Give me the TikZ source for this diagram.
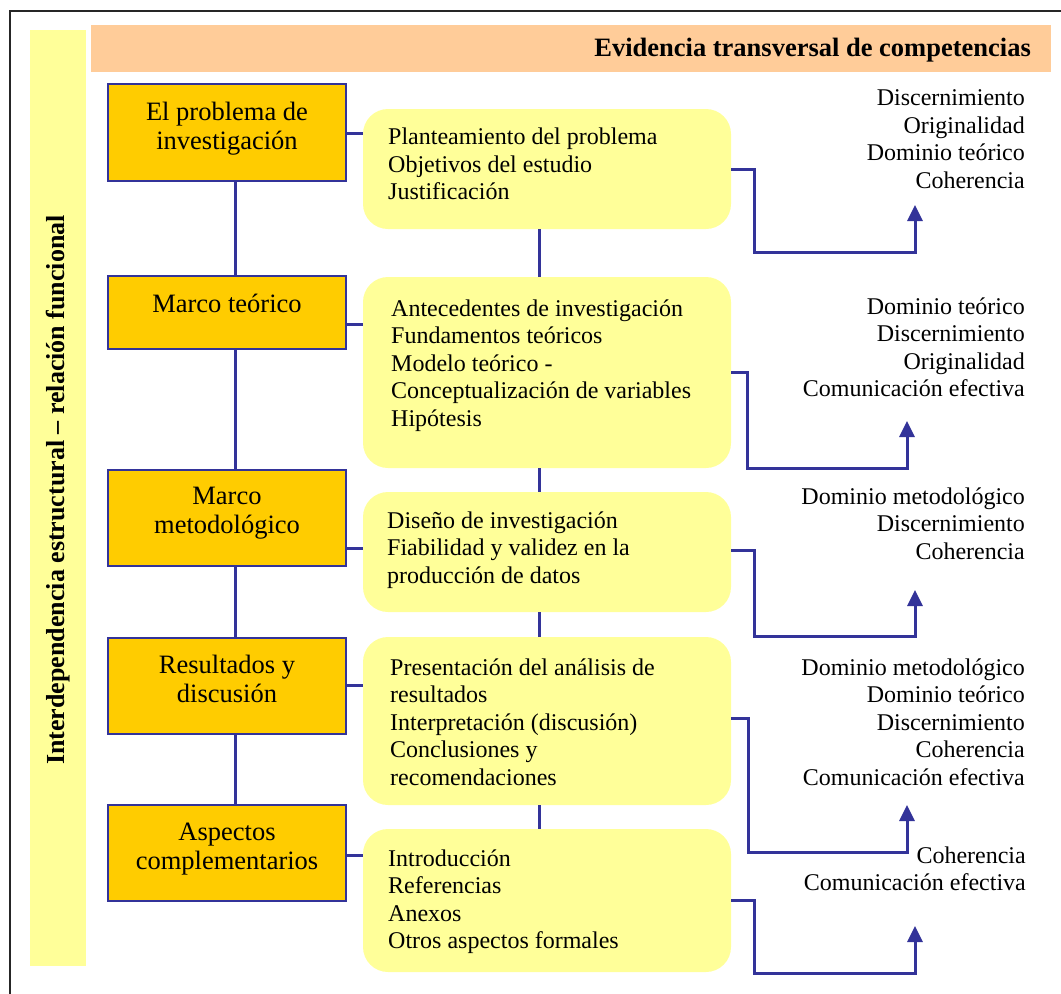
\documentclass[tikz,border=0pt]{standalone}
\usepackage{fontspec}
\setmainfont{Liberation Serif}
\usetikzlibrary{arrows.meta}
\definecolor{navy}{HTML}{333399}
\definecolor{gold}{HTML}{FFCC00}
\definecolor{paleyellow}{HTML}{FFFF99}
\definecolor{peach}{HTML}{FFCC99}
\begin{document}
% multi-line texts are placed by the baseline of their last line
\begin{tikzpicture}[x=1pt,y=-1pt,
  goldbox/.style={draw=navy, line width=2.5pt, fill=gold, minimum width=238pt, inner sep=0pt},
  softbox/.style={fill=paleyellow, rounded corners=25pt, minimum width=368pt, inner sep=0pt},
  link/.style={draw=navy, line width=3pt},
  goal/.style={link, -{Triangle[width=15pt,length=16pt]}},
  boxtext/.style={font=\fontsize{26.5}{29.5}\selectfont, align=center, anchor=base, inner sep=0pt},
  itemtext/.style={font=\fontsize{24}{27.5}\selectfont, align=left, anchor=base west, inner sep=0pt},
  skilltext/.style={font=\fontsize{24}{27.5}\selectfont, align=right, anchor=base east, inner sep=0pt}]
\useasboundingbox (0,0) rectangle (1061,994);

% frame and header bands
\draw[line width=2pt, black!85] (9.5,994) -- (9.5,11) -- (1061,11);
\fill[peach] (91,25) rectangle (1051,72);
\fill[paleyellow] (30,30) rectangle (86,966);
\node[anchor=base east, inner sep=0pt, font=\fontsize{26.5}{29.5}\selectfont\bfseries] (title) at (1031,56)
  {Evidencia transversal de competencias};
\node[rotate=90, inner sep=0pt, font=\fontsize{26}{29}\selectfont\bfseries] (axis) at (58,490)
  {Interdependencia estructural – relación funcional};

% stages of the thesis
\node[goldbox, minimum height=97pt] (b1) at (227,132.5) {};
\node[goldbox, minimum height=73pt] (b2) at (227,312.5) {};
\node[goldbox, minimum height=96pt] (b3) at (227,518) {};
\node[goldbox, minimum height=96pt] (b4) at (227,686) {};
\node[goldbox, minimum height=96pt] (b5) at (227,853) {};
\node[boxtext] (b1t) at (227,149.5) {El problema de\\investigación};
\node[boxtext] (b2t) at (227,312) {Marco teórico};
\node[boxtext] (b3t) at (227,533.5) {Marco\\metodológico};
\node[boxtext] (b4t) at (227,702.5) {Resultados y\\discusión};
\node[boxtext] (b5t) at (227,869.5) {Aspectos\\complementarios};

% contents of each stage
\node[softbox, minimum height=120pt] (p1) at (547,169) {};
\node[softbox, minimum height=191pt] (p2) at (547,372.5) {};
\node[softbox, minimum height=120pt] (p3) at (547,552) {};
\node[softbox, minimum height=168pt] (p4) at (547,721) {};
\node[softbox, minimum height=143pt] (p5) at (547,900.5) {};
\node[itemtext] (p1t) at (388,199.5) {Planteamiento del problema\\Objetivos del estudio\\Justificación};
\node[itemtext] (p2t) at (391,426) {Antecedentes de investigación\\Fundamentos teóricos\\Modelo teórico -\\Conceptualización de variables\\Hipótesis};
\node[itemtext] (p3t) at (387,583) {Diseño de investigación\\Fiabilidad y validez en la\\producción de datos};
\node[itemtext] (p4t) at (390,785) {Presentación del análisis de\\resultados\\Interpretación (discusión)\\Conclusiones y\\recomendaciones};
\node[itemtext] (p5t) at (388,948.5) {Introducción\\Referencias\\Anexos\\Otros aspectos formales};

% competences shown by each stage
\node[skilltext] (s1) at (1025,188) {Discernimiento\\Originalidad\\Dominio teórico\\Coherencia};
\node[skilltext] (s2) at (1025,396.5) {Dominio teórico\\Discernimiento\\Originalidad\\Comunicación efectiva};
\node[skilltext] (s3) at (1025,559) {Dominio metodológico\\Discernimiento\\Coherencia};
\node[skilltext] (s4) at (1025,785) {Dominio metodológico\\Dominio teórico\\Discernimiento\\Coherencia\\Comunicación efectiva};
\node[skilltext] (s5) at (1026,890.5) {Coherencia\\Comunicación efectiva};

% spines
\draw[link] (b1.south -| 235,0) -- (b2.north -| 235,0);
\draw[link] (b2.south -| 235,0) -- (b3.north -| 235,0);
\draw[link] (b3.south -| 235,0) -- (b4.north -| 235,0);
\draw[link] (b4.south -| 235,0) -- (b5.north -| 235,0);
\draw[link] (p1.south -| 539,0) -- (p2.north -| 539,0);
\draw[link] (p2.south -| 539,0) -- (p3.north -| 539,0);
\draw[link] (p3.south -| 539,0) -- (p4.north -| 539,0);
\draw[link] (p4.south -| 539,0) -- (p5.north -| 539,0);

% stage to contents
\draw[link] (b1.east |- 0,133) -- (p1.west |- 0,133);
\draw[link] (b2.east |- 0,324) -- (p2.west |- 0,324);
\draw[link] (b3.east |- 0,548) -- (p3.west |- 0,548);
\draw[link] (b4.east |- 0,685) -- (p4.west |- 0,685);
\draw[link] (b5.east |- 0,855) -- (p5.west |- 0,855);

% contents to competences
\coordinate (g1) at (915,205);
\coordinate (g2) at (907,421);
\coordinate (g3) at (915,590);
\coordinate (g4) at (907,805);
\coordinate (g5) at (915,926);
\draw[goal] (p1.east) -| (754,252) -| (g1);
\draw[goal] (p2.east) -| (747,468) -| (g2);
\draw[goal] (p3.east |- 0,550) -| (754,636) -| (g3);
\draw[goal] (p4.east |- 0,718) -| (748,852) -| (g4);
\draw[goal] (p5.east) -| (754,973) -| (g5);
\end{tikzpicture}
\end{document}
